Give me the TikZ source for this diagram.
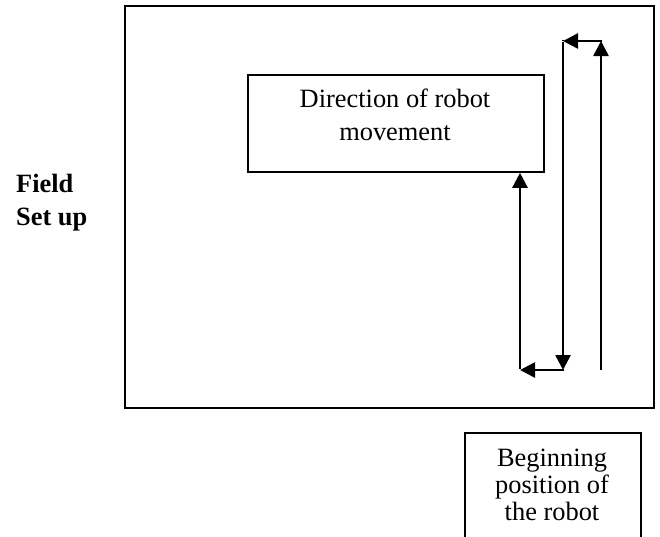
\documentclass[tikz,border=0pt]{standalone}
\usepackage{fontspec}
\setmainfont{Liberation Serif}
\usetikzlibrary{arrows.meta}
\tikzset{
  box/.style={draw, line width=1.8pt, rectangle, inner sep=0pt, anchor=north west},
  txt/.style={inner sep=0pt, anchor=base, font=\fontsize{26.4}{30}\selectfont},
  lbl/.style={inner sep=0pt, anchor=base west, font=\fontsize{26.4}{30}\selectfont\bfseries},
  arr/.style={line width=2.6pt, -{Triangle[length=15pt,width=15pt]}, shorten >=0pt},
  seg/.style={line width=2.6pt}
}
\begin{document}
\begin{tikzpicture}[x=1pt,y=-1pt]
\useasboundingbox (0,0) rectangle (660,536);
\clip (0,0) rectangle (660,536);
% field
\node[box, minimum width=529pt, minimum height=402pt] (field) at (124,5) {};
% direction box
\node[box, minimum width=296pt, minimum height=97pt] (dir) at (247,74) {};
\node[txt] (dirA) at (395,107.7) {Direction of robot};
\node[txt] (dirB) at (395,140.7) {movement};
% beginning box
\node[box, minimum width=176pt, minimum height=140pt] (beg) at (464,432) {};
\node[txt] (begA) at (552,466.5) {Beginning};
\node[txt] (begB) at (552,493.5) {position of};
\node[txt] (begC) at (552,520) {the robot};
% label
\node[lbl] (fA) at (16,192) {Field};
\node[lbl] (fB) at (16,225) {Set up};
% path of robot
\coordinate (p0) at (601,370);
\coordinate (p1) at (601,41);
\coordinate (p2) at (563,41);
\coordinate (p3) at (563,370);
\coordinate (p4) at (520,370);
\coordinate (p5) at (dir.south -| p4);
\draw[arr] (p0) -- (p1);
\draw[arr] ([xshift=1.3pt]p1) -- (p2);
\draw[seg] ([yshift=1.3pt]p2) -- ++(0,-1.3pt);
\draw[arr] ([yshift=-1.3pt]p2) -- (p3);
\draw[arr] ([xshift=1.3pt]p3) -- (p4);
\draw[arr] ([yshift=1.3pt]p4) -- (p5);
\end{tikzpicture}
\end{document}
